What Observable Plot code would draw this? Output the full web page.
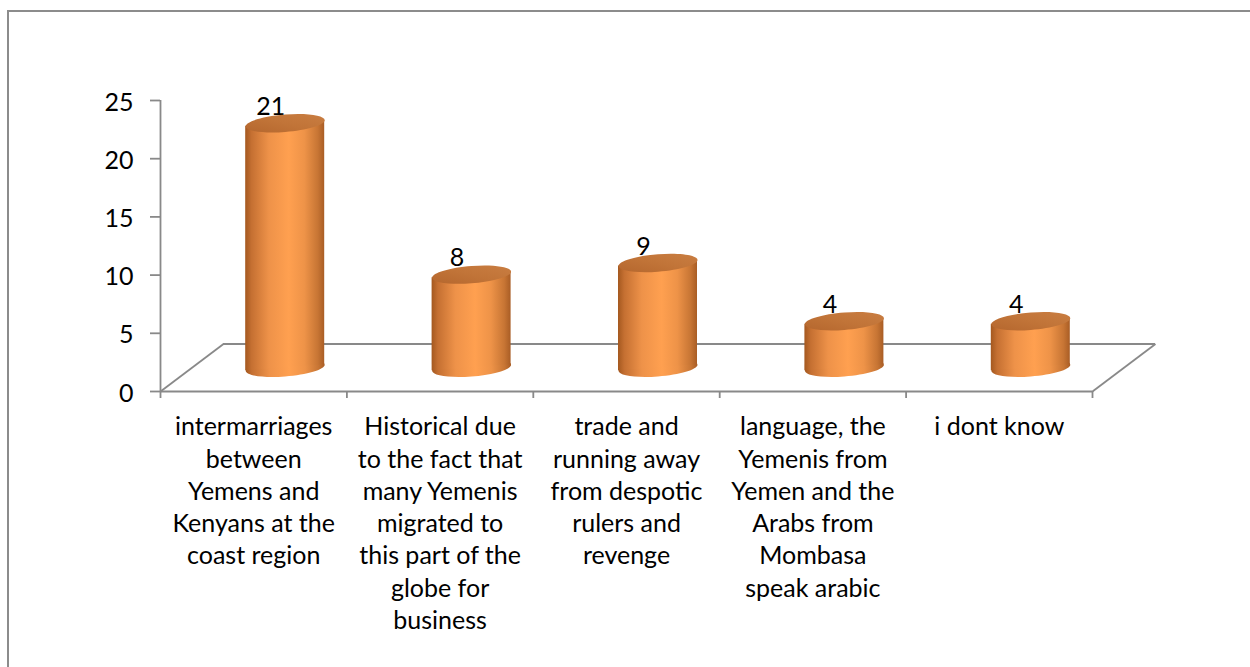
<!DOCTYPE html>
<html><head><meta charset="utf-8">
<script src="https://cdn.jsdelivr.net/npm/d3@7"></script>
<script src="https://cdn.jsdelivr.net/npm/@observablehq/plot@0.6"></script>
<style>
html,body{margin:0;padding:0;background:#fff;overflow:hidden}
#wrap{position:relative;width:1250px;height:667px}
#frame{position:absolute;left:7px;top:10px;width:1300px;height:700px;border-left:2px solid #8c8c8c;border-top:2px solid #8c8c8c;box-sizing:border-box}
#chart{position:absolute;left:0;top:0}
</style></head><body>
<div id="wrap"><div id="frame"></div><div id="chart"></div></div>
<script>
// ---- data ----
const categories = [
  "intermarriages\nbetween\nYemens and\nKenyans at the\ncoast region",
  "Historical due\nto the fact that\nmany Yemenis\nmigrated to\nthis part of the\nglobe for\nbusiness",
  "trade and\nrunning away\nfrom despotic\nrulers and\nrevenge",
  "language, the\nYemenis from\nYemen and the\nArabs from\nMombasa\nspeak arabic",
  "i dont know"
];
const values = [21, 8, 9, 4, 4];
const yTicks = [0, 5, 10, 15, 20, 25];

// ---- styling / geometry constants ----
const W = 1250, H = 667;
const mL = 160, mR = 158, mT = 100, mB = 276;
const DX = 63, DY = 47.5;          // 3D depth offset in px
const BAR_HALF_PX = 39.5;
const RY = 8.7, K = -0.076, KAPPA = 0.5523;
const GRAY = "#898989";
const FONT = "Lato";

const n = categories.length;
const yMax = yTicks[yTicks.length - 1];
const pxPerX = (W - mL - mR) / n;
const pxPerY = (H - mT - mB) / yMax;
const HW = BAR_HALF_PX / pxPerX;
const depthXu = DX / pxPerX, depthYu = DY / pxPerY;

const rows = categories.map((c, i) => ({category: c, value: values[i], pos: i + 0.5}));
const bounds = d3.range(n + 1);

const ellipseSym = {
  draw(ctx) {
    const RX = BAR_HALF_PX;
    const P = (x, y) => [x, y + x * K];
    ctx.moveTo(...P(RX, 0));
    ctx.bezierCurveTo(...P(RX, RY * KAPPA), ...P(RX * KAPPA, RY), ...P(0, RY));
    ctx.bezierCurveTo(...P(-RX * KAPPA, RY), ...P(-RX, RY * KAPPA), ...P(-RX, 0));
    ctx.bezierCurveTo(...P(-RX, -RY * KAPPA), ...P(-RX * KAPPA, -RY), ...P(0, -RY));
    ctx.bezierCurveTo(...P(RX * KAPPA, -RY), ...P(RX, -RY * KAPPA), ...P(RX, 0));
    ctx.closePath();
  }
};

const chart = Plot.plot({
  width: W, height: H,
  marginLeft: mL, marginRight: mR, marginTop: mT, marginBottom: mB,
  style: {fontFamily: FONT, fontSize: "25px", background: "transparent", color: "#000"},
  x: {domain: [0, n], axis: null},
  y: {domain: [0, yMax], axis: null},
  marks: [
    // floor
    Plot.ruleY([0], {dx: DX, dy: -DY, stroke: GRAY, strokeWidth: 1.8}),
    Plot.link(bounds.filter(b => b === 0 || b === n), {x1: d => d, y1: () => 0, x2: d => d + depthXu, y2: () => depthYu, stroke: GRAY, strokeWidth: 1.8}),
    Plot.ruleY([0], {stroke: GRAY, strokeWidth: 1.8}),
    Plot.ruleX(bounds, {y1: () => 0, y2: () => 0, insetBottom: -7, stroke: GRAY, strokeWidth: 1.8}),
    // y axis
    Plot.ruleX([0], {y1: () => 0, y2: () => yMax, stroke: GRAY, strokeWidth: 1.8}),
    Plot.ruleY(yTicks, {x1: () => 0, x2: () => 0, insetLeft: -10, stroke: GRAY, strokeWidth: 1.8}),
    Plot.text(yTicks, {x: () => 0, y: d => d, text: d => String(d), textAnchor: "end", dx: -27, dy: 2, fontSize: 25, fill: "#000"}),
    // category labels
    Plot.text(rows, {x: "pos", y: () => 0, text: "category", lineAnchor: "top", dy: 21, lineHeight: 1.29, fontSize: 25, fill: "#000"}),
    // value labels (behind cylinders)
    Plot.text(rows, {x: "pos", y: "value", text: d => String(d.value), lineAnchor: "bottom", dx: 17, dy: -32, fontSize: 25, fill: "#000"}),
    // cylinders
    Plot.dot(rows, {x: "pos", y: () => 0, symbol: ellipseSym, fill: "url(#cylBody)", dx: DX / 2, dy: -DY / 2}),
    Plot.rect(rows, {x1: d => d.pos - HW, x2: d => d.pos + HW, y1: () => 0, y2: "value", fill: "url(#cylBody)", dx: DX / 2, dy: -DY / 2}),
    Plot.dot(rows, {x: "pos", y: "value", symbol: ellipseSym, fill: "url(#cylTop)", dx: DX / 2, dy: -DY / 2})
  ]
});

const svg = d3.select(chart);
const defs = svg.insert("defs", ":first-child");
const g1 = defs.append("linearGradient").attr("id", "cylBody").attr("x1", 0).attr("x2", 1).attr("y1", 0).attr("y2", 0);
[[0, "#a4581f"], [0.08, "#c57032"], [0.3, "#ee9249"], [0.55, "#ffa050"], [0.75, "#ee9348"], [0.92, "#c77534"], [1, "#a95d25"]]
  .forEach(([o, c]) => g1.append("stop").attr("offset", o).attr("stop-color", c));
const g2 = defs.append("linearGradient").attr("id", "cylTop").attr("x1", 0).attr("x2", 1).attr("y1", 1).attr("y2", 0);
[[0, "#b5672e"], [0.5, "#c17438"], [1, "#c97d41"]]
  .forEach(([o, c]) => g2.append("stop").attr("offset", o).attr("stop-color", c));

// skew cylinder bodies to match the tilted ellipses
const ang = Math.atan(K) * 180 / Math.PI;
svg.selectAll('g[aria-label="rect"] rect').each(function() {
  const r = d3.select(this);
  const cx = +r.attr("x") + +r.attr("width") / 2;
  r.attr("transform", `translate(${cx} 0) skewY(${ang}) translate(${-cx} 0)`);
});

document.getElementById("chart").appendChild(chart);
</script>
</body></html>
